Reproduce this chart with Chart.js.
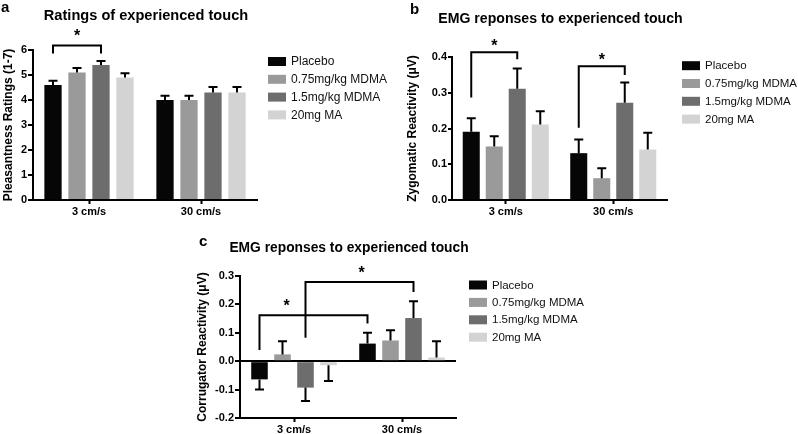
<!DOCTYPE html>
<html><head><meta charset="utf-8">
<script src="https://cdn.jsdelivr.net/npm/chart.js@4/dist/chart.umd.min.js"></script>
<style>
html,body{margin:0;padding:0;background:#fff;}
#wrap{position:relative;width:798px;height:434px;background:#fff;}
canvas{position:absolute;left:0;top:0;}
</style></head><body>
<div id="wrap">
<canvas id="ca" width="798" height="434"></canvas>
<canvas id="cb" width="798" height="434"></canvas>
<canvas id="cc" width="798" height="434"></canvas>
</div>
<script>
// ---------- shared ----------
const categories = ['3 cm/s', '30 cm/s'];
const groupLabels = ['Placebo', '0.75mg/kg MDMA', '1.5mg/kg MDMA', '20mg MA'];
const groupColors = ['#060606', '#9a9a9a', '#6d6d6d', '#d3d3d3'];

// ---------- panel a : pleasantness ratings ----------
const ratingsPlacebo     = [4.6, 4.0];
const ratingsMdmaLow     = [5.1, 4.0];
const ratingsMdmaHigh    = [5.4, 4.3];
const ratingsMA          = [4.9, 4.3];
const ratingsPlaceboErr  = [0.17, 0.17];
const ratingsMdmaLowErr  = [0.18, 0.17];
const ratingsMdmaHighErr = [0.16, 0.22];
const ratingsMAErr       = [0.17, 0.22];
const ratingsBrackets = [
  {from: [0, 0], to: [0, 2], top: 6.18, ends: [5.86, 5.86], star: 0.5}
];

// ---------- panel b : zygomatic EMG ----------
const zygoPlacebo     = [0.191, 0.131];
const zygoMdmaLow     = [0.150, 0.061];
const zygoMdmaHigh    = [0.311, 0.272];
const zygoMA          = [0.211, 0.141];
const zygoPlaceboErr  = [0.038, 0.038];
const zygoMdmaLowErr  = [0.028, 0.028];
const zygoMdmaHighErr = [0.057, 0.057];
const zygoMAErr       = [0.037, 0.047];
const zygoBrackets = [
  {from: [0, 0], to: [0, 2], top: 0.413, ends: [0.287, 0.394], star: 0.5},
  {from: [1, 0], to: [1, 2], top: 0.374, ends: [0.202, 0.350], star: 0.5}
];

// ---------- panel c : corrugator EMG ----------
const corrPlacebo     = [-0.064, 0.062];
const corrMdmaLow     = [0.024, 0.073];
const corrMdmaHigh    = [-0.093, 0.152];
const corrMA          = [-0.014, 0.013];
const corrPlaceboErr  = [0.036, 0.038];
const corrMdmaLowErr  = [0.046, 0.036];
const corrMdmaHighErr = [0.047, 0.059];
const corrMAErr       = [0.056, 0.057];
const corrBrackets = [
  {from: [0, 0], to: [1, 0], top: 0.162, ends: [0.039, 0.133], star: 0.25},
  {from: [0, 2], to: [1, 2], top: 0.279, ends: [0.083, 0.244], star: 0.52}
];

const FONT = "'Liberation Sans', Arial, Helvetica, sans-serif";
Chart.defaults.color = '#000';
Chart.defaults.font.family = FONT;

const annotPlugin = {
  id: 'annot',
  afterDatasetsDraw(chart) {
    const ctx = chart.ctx, ys = chart.scales.y;
    ctx.save();
    ctx.strokeStyle = '#000';
    ctx.lineWidth = 2;
    chart.data.datasets.forEach((ds, i) => {
      const meta = chart.getDatasetMeta(i);
      meta.data.forEach((bar, j) => {
        const v = ds.data[j], e = ds.errors[j];
        const end = v >= 0 ? v + e : v - e;
        const y0 = ys.getPixelForValue(v), y1 = ys.getPixelForValue(end);
        ctx.beginPath();
        ctx.moveTo(bar.x, y0); ctx.lineTo(bar.x, y1);
        ctx.moveTo(bar.x - 4.5, y1); ctx.lineTo(bar.x + 4.5, y1);
        ctx.stroke();
      });
    });
    ctx.restore();
  },
  afterDraw(chart, args, opts) {
    const ctx = chart.ctx, ys = chart.scales.y, ca = chart.chartArea;
    ctx.save();
    // chart title, centred over the plot area
    ctx.fillStyle = '#000';
    ctx.font = 'bold ' + opts.title.size + 'px ' + FONT;
    ctx.textAlign = 'center';
    ctx.textBaseline = 'middle';
    ctx.fillText(opts.title.text, (ca.left + ca.right) / 2 + 1, opts.title.y);
    // significance brackets
    ctx.strokeStyle = '#000';
    ctx.lineWidth = 2;
    ctx.lineJoin = 'miter';
    (opts.brackets || []).forEach(b => {
      const xl = chart.getDatasetMeta(b.from[1]).data[b.from[0]].x;
      const xr = chart.getDatasetMeta(b.to[1]).data[b.to[0]].x;
      const yt = ys.getPixelForValue(b.top);
      ctx.beginPath();
      ctx.moveTo(xl, ys.getPixelForValue(b.ends[0]));
      ctx.lineTo(xl, yt); ctx.lineTo(xr, yt);
      ctx.lineTo(xr, ys.getPixelForValue(b.ends[1]));
      ctx.stroke();
      ctx.fillStyle = '#000';
      ctx.font = 'bold 16px ' + FONT;
      ctx.textAlign = 'center';
      ctx.textBaseline = 'alphabetic';
      ctx.fillText('*', xl + (xr - xl) * b.star, yt - opts.starGap + 0.58 * 16);
    });
    // legend
    const L = opts.legend;
    chart.data.datasets.forEach((ds, i) => {
      const cy = L.y + i * L.step;
      ctx.fillStyle = ds.backgroundColor;
      ctx.fillRect(L.x, cy - 4.5, 18, 9);
      ctx.fillStyle = '#111';
      ctx.font = L.size + 'px ' + FONT;
      ctx.textAlign = 'left';
      ctx.textBaseline = 'middle';
      ctx.fillText(ds.label, L.x + 23, cy + 0.5);
    });
    // panel letter
    ctx.fillStyle = '#000';
    ctx.font = 'bold 15px ' + FONT;
    ctx.textAlign = 'left';
    ctx.textBaseline = 'alphabetic';
    ctx.fillText(opts.letter.text, opts.letter.x, opts.letter.y);
    ctx.restore();
  }
};

function makeChart(id, cfg) {
  const series = cfg.series;
  return new Chart(document.getElementById(id), {
    type: 'bar',
    data: {
      labels: categories,
      datasets: series.map((s, i) => ({
        label: groupLabels[i],
        data: s[0],
        errors: s[1],
        backgroundColor: groupColors[i],
        borderWidth: 0,
        categoryPercentage: cfg.catPct,
        barPercentage: cfg.barPct
      }))
    },
    options: {
      responsive: false,
      animation: false,
      events: [],
      layout: {padding: cfg.padding},
      plugins: {
        legend: {display: false},
        tooltip: {enabled: false},
        title: {display: false},
        annot: {brackets: cfg.brackets, legend: cfg.legend, letter: cfg.letter,
                starGap: cfg.starGap, title: cfg.title}
      },
      scales: {
        x: {
          afterFit: s => { s.height = cfg.xH; },
          grid: {offset: false, drawOnChartArea: false, tickLength: 4, tickColor: '#000', tickWidth: 2},
          border: {color: '#000', width: 2},
          ticks: {color: '#000', font: {family: FONT, size: 11, weight: 'bold'}, padding: 1, maxRotation: 0}
        },
        y: {
          min: cfg.yMin, max: cfg.yMax,
          afterFit: s => { s.width = cfg.yW; },
          grid: {
            drawOnChartArea: cfg.zeroLine,
            color: c => (c.tick && Math.abs(c.tick.value) < 1e-9) ? '#000' : 'rgba(0,0,0,0)',
            lineWidth: 2,
            tickLength: cfg.yTick, tickColor: '#000', tickWidth: 2
          },
          border: {color: '#000', width: 2},
          ticks: {
            stepSize: cfg.yStep, color: '#000', padding: 1,
            font: {family: FONT, size: 11, weight: 'bold'},
            callback: v => v.toFixed(cfg.yDec)
          },
          title: {
            display: true, text: cfg.yTitle, color: '#000',
            font: {family: FONT, size: 12, weight: 'bold'},
            padding: {top: cfg.yTitlePad, bottom: 0}
          }
        }
      }
    },
    plugins: [annotPlugin]
  });
}

makeChart('ca', {
  title: {text: 'Ratings of experienced touch', size: 14.6, y: 15.5},
  yTitle: 'Pleasantness Ratings (1-7)',
  series: [[ratingsPlacebo, ratingsPlaceboErr], [ratingsMdmaLow, ratingsMdmaLowErr],
           [ratingsMdmaHigh, ratingsMdmaHighErr], [ratingsMA, ratingsMAErr]],
  brackets: ratingsBrackets, starGap: 14,
  yMin: 0, yMax: 6, yStep: 1, yDec: 0, zeroLine: false, yTick: 5,
  padding: {left: 0, right: 541, top: 50, bottom: 214},
  xH: 20, yW: 33, yTitlePad: 1,
  catPct: 0.857, barPct: 0.72,
  legend: {x: 268, y: 61.5, step: 17.8, size: 12},
  letter: {text: 'a', x: 1, y: 12}
});

makeChart('cb', {
  title: {text: 'EMG reponses to experienced touch', size: 14.1, y: 19.5},
  yTitle: 'Zygomatic Reactivity (\u03BCV)',
  series: [[zygoPlacebo, zygoPlaceboErr], [zygoMdmaLow, zygoMdmaLowErr],
           [zygoMdmaHigh, zygoMdmaHighErr], [zygoMA, zygoMAErr]],
  brackets: zygoBrackets, starGap: 11,
  yMin: 0, yMax: 0.4, yStep: 0.1, yDec: 1, zeroLine: false, yTick: 4,
  padding: {left: 404, right: 131, top: 57, bottom: 214},
  xH: 20, yW: 48, yTitlePad: 1.8,
  catPct: 0.856, barPct: 0.74,
  legend: {x: 682, y: 65.7, step: 17.8, size: 11.5},
  letter: {text: 'b', x: 410, y: 14}
});

makeChart('cc', {
  title: {text: 'EMG reponses to experienced touch', size: 13.8, y: 248.5},
  yTitle: 'Corrugator Reactivity (\u03BCV)',
  series: [[corrPlacebo, corrPlaceboErr], [corrMdmaLow, corrMdmaLowErr],
           [corrMdmaHigh, corrMdmaHighErr], [corrMA, corrMAErr]],
  brackets: corrBrackets, starGap: 13,
  yMin: -0.2, yMax: 0.3, yStep: 0.1, yDec: 1, zeroLine: true, yTick: 5,
  padding: {left: 195, right: 342, top: 276, bottom: 0},
  xH: 16, yW: 45, yTitlePad: 0,
  catPct: 0.852, barPct: 0.72,
  legend: {x: 469, y: 285, step: 17.4, size: 11.5},
  letter: {text: 'c', x: 199, y: 246}
});
</script>
</body></html>
